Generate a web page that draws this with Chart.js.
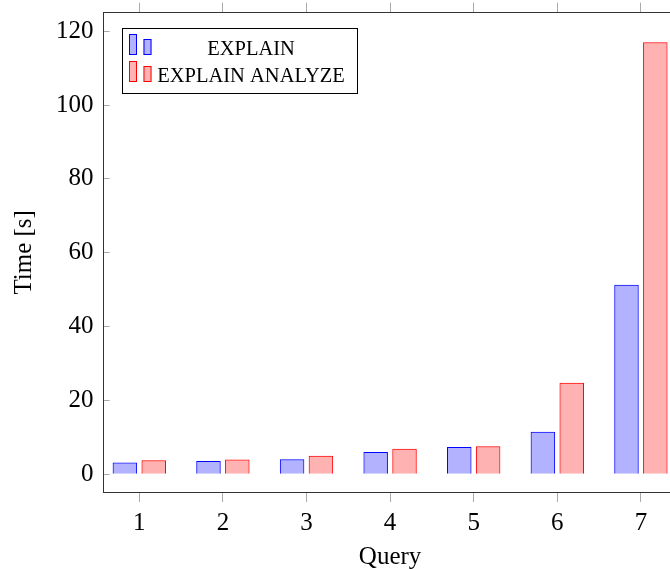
<!DOCTYPE html>
<html>
<head>
<meta charset="utf-8">
<script src="https://cdn.jsdelivr.net/npm/chart.js@4"></script>
<style>
  html, body { margin: 0; padding: 0; background: #fff; overflow: hidden; }
</style>
</head>
<body>
<canvas id="chart" width="690" height="569"></canvas>
<script>
const queries = [1, 2, 3, 4, 5, 6, 7];
const explainTimes = [3.2, 3.6, 4.1, 6.0, 7.4, 11.5, 51.3];
const analyzeTimes = [3.8, 4.0, 5.0, 6.9, 7.6, 24.8, 117.0];
const yTicks = [0, 20, 40, 60, 80, 100, 120];
const seriesLabels = ['EXPLAIN', 'EXPLAIN ANALYZE'];

Chart.defaults.font.family = '"Liberation Serif", serif';
Chart.defaults.color = '#000';

const frame = '#333';
const tickCol = '#aaa';

// pgfplots-like legend inside the plot area
const legendBox = {
  id: 'legendBox',
  afterDraw(chart) {
    const { ctx, chartArea: a } = chart;
    const x = Math.round(a.left + 18), y = Math.round(a.top + 15), w = 235, h = 65;
    ctx.save();
    ctx.fillStyle = '#fff';
    ctx.fillRect(x, y, w, h);
    ctx.strokeStyle = '#000';
    ctx.lineWidth = 1;
    ctx.strokeRect(x + 0.5, y + 0.5, w, h);
    chart.data.datasets.forEach((ds, i) => {
      const base = Math.round(y + 26.6 + i * 27.4);
      [[7, 21], [21.5, 16]].forEach(([dx, bh]) => {
        ctx.fillStyle = ds.backgroundColor;
        ctx.fillRect(x + dx, base - bh, 8, bh);
        ctx.strokeStyle = ds.borderColor;
        ctx.strokeRect(x + dx + 0.5, base - bh + 0.5, 7, bh - 1);
      });
      ctx.fillStyle = '#000';
      ctx.font = '20.5px "Liberation Serif"';
      ctx.textAlign = 'center';
      ctx.textBaseline = 'alphabetic';
      ctx.fillText(ds.label, x + 129, base);
    });
    ctx.restore();
  }
};

const setXTicks = s => { s.ticks = queries.map(v => ({ value: v })); };
const setYTicks = s => { s.ticks = yTicks.map(v => ({ value: v })); };
// fixed box sizes, no extra label padding from the layout
const fixSize = (w, h) => s => {
  if (w !== null) s.width = w;
  if (h !== null) s.height = h;
  s.paddingTop = s.paddingBottom = s.paddingLeft = s.paddingRight = 0;
};

new Chart(document.getElementById('chart'), {
  type: 'bar',
  data: {
    datasets: [
      {
        label: seriesLabels[0],
        data: queries.map((q, i) => ({ x: q, y: explainTimes[i] })),
        backgroundColor: 'rgba(0, 0, 255, 0.3)',
        borderColor: 'rgb(0, 0, 255)',
        borderWidth: 1
      },
      {
        label: seriesLabels[1],
        data: queries.map((q, i) => ({ x: q, y: analyzeTimes[i] })),
        backgroundColor: 'rgba(255, 0, 0, 0.3)',
        borderColor: 'rgb(255, 0, 0)',
        borderWidth: 1
      }
    ]
  },
  options: {
    responsive: false,
    animation: false,
    layout: { padding: 0 },
    categoryPercentage: 0.69,
    barPercentage: 0.85,
    plugins: { legend: { display: false }, tooltip: { enabled: false } },
    scales: {
      x: {
        type: 'linear',
        position: 'bottom',
        offset: false,
        min: 0.573,
        max: 7.427,
        afterBuildTicks: setXTicks,
        afterFit: fixSize(null, 77),
        ticks: { font: { size: 25 }, padding: 6, maxRotation: 0 },
        grid: { offset: false, drawOnChartArea: false, tickLength: 10, color: tickCol },
        border: { color: frame, width: 1 },
        title: { display: true, text: 'Query', font: { size: 25 }, padding: { bottom: -3 } }
      },
      x2: {
        type: 'linear',
        position: 'top',
        offset: false,
        min: 0.573,
        max: 7.427,
        afterBuildTicks: setXTicks,
        afterFit: fixSize(null, 12.7),
        ticks: { display: false },
        grid: { offset: false, drawOnChartArea: false, tickLength: 10, color: tickCol },
        border: { color: frame, width: 1 }
      },
      y: {
        position: 'left',
        min: -4.8,
        max: 125,
        afterBuildTicks: setYTicks,
        afterFit: fixSize(103.6, null),
        ticks: { font: { size: 25 }, padding: 16 },
        grid: { drawOnChartArea: false, tickLength: -6, color: tickCol },
        border: { color: frame, width: 1 },
        title: { display: true, text: 'Time [s]', font: { size: 25 }, padding: { top: 9 } }
      },
      y2: {
        position: 'right',
        min: -4.8,
        max: 125,
        afterBuildTicks: setYTicks,
        afterFit: fixSize(690 - 676.6, null),
        ticks: { display: false },
        grid: { drawOnChartArea: false, tickLength: -6, color: tickCol },
        border: { color: frame, width: 1 }
      }
    }
  },
  plugins: [legendBox]
});
</script>
</body>
</html>
